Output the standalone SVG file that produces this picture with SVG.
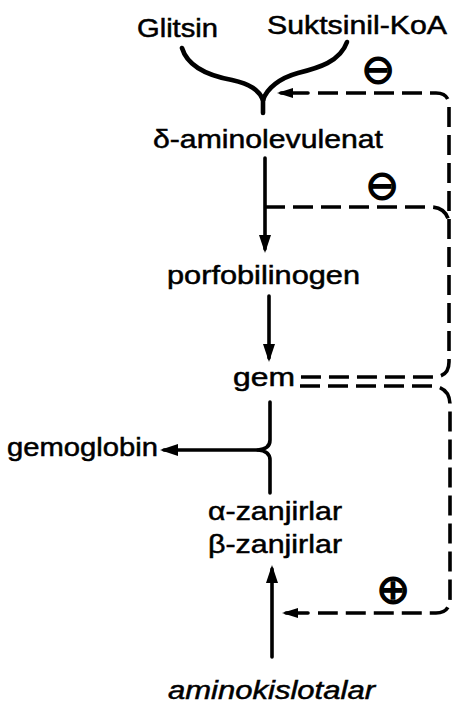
<svg xmlns="http://www.w3.org/2000/svg" width="459" height="704" viewBox="0 0 459 704">
<style>
.t{font-family:"Liberation Sans",Arial,sans-serif;font-size:26px;fill:#000;stroke:#000;stroke-width:0.5}
.it{font-style:italic}
.sym{font-family:"DejaVu Sans",sans-serif;font-size:40px;fill:#000;stroke:#000;stroke-width:1.4}
.s{fill:none;stroke:#000;stroke-width:3.6;stroke-linecap:round;stroke-linejoin:round}
.b{fill:none;stroke:#000;stroke-width:4.6;stroke-linecap:round}
.d{fill:none;stroke:#000;stroke-width:3.6;stroke-dasharray:20 8}
</style>
<defs>
<marker id="ah" viewBox="0 0 18 12" markerWidth="18" markerHeight="12" refX="14" refY="6" orient="auto" markerUnits="userSpaceOnUse">
<path d="M0,0 L18,6 L0,12 z" fill="#000"/>
</marker>
<marker id="ahs" viewBox="0 0 16 10" markerWidth="16" markerHeight="10" refX="12" refY="5" orient="auto" markerUnits="userSpaceOnUse">
<path d="M0,0 L16,5 L0,10 z" fill="#000"/>
</marker>
</defs>
<g id="glitsin"><text class="t" x="137" y="37" textLength="81" lengthAdjust="spacingAndGlyphs">Glitsin</text></g>
<g id="suktsinil"><text class="t" x="267" y="34" textLength="180" lengthAdjust="spacingAndGlyphs">Suktsinil-KoA</text></g>
<g id="ala"><text class="t" x="153" y="148" textLength="230" lengthAdjust="spacingAndGlyphs">δ-aminolevulenat</text></g>
<g id="porfobilinogen"><text class="t" x="167" y="284" textLength="193" lengthAdjust="spacingAndGlyphs">porfobilinogen</text></g>
<g id="gem"><text class="t" x="233" y="386" textLength="62" lengthAdjust="spacingAndGlyphs">gem</text></g>
<g id="gemoglobin"><text class="t" x="7" y="456" textLength="151" lengthAdjust="spacingAndGlyphs">gemoglobin</text></g>
<g id="zanjirlar">
<text class="t" x="208" y="520" textLength="134" lengthAdjust="spacingAndGlyphs">α-zanjirlar</text>
<text class="t" x="208" y="553" textLength="134" lengthAdjust="spacingAndGlyphs">β-zanjirlar</text>
</g>
<g id="aminokislotalar"><text class="t it" x="168" y="699" textLength="207" lengthAdjust="spacingAndGlyphs">aminokislotalar</text></g>
<g id="signs">
<text class="sym" x="378" y="83" text-anchor="middle">⊖</text>
<text class="sym" x="382" y="199" text-anchor="middle">⊖</text>
<text class="sym" x="393" y="603" text-anchor="middle">⊕</text>
</g>
<g id="connectors">
<path class="b" d="M182,48 C188,68 210,76 232,80 C250,84 259,90 263,100"/>
<path class="b" d="M347,42 C340,62 318,68 298,73 C280,78 267,88 263,100"/>
<path class="b" d="M263,98 V113"/>
<path class="s" d="M265,158 V249" marker-end="url(#ah)"/>
<path class="s" d="M269,296 V358" marker-end="url(#ah)"/>
<path class="s" d="M270,402 V440 Q270,449 258,450 Q270,451 270,460 V493"/>
<path class="s" d="M258,450 H164" marker-end="url(#ah)"/>
<path class="s" d="M272,657 V569" marker-end="url(#ah)"/>
<path class="s" d="M308,93 H281" marker-end="url(#ahs)"/>
<path class="s" d="M308,613 H286" marker-end="url(#ahs)"/>
<path class="d" d="M318,93 H436 Q449,93 449,106 V362 Q449,377 433,377 H300"/>
<path class="d" d="M265,207 H430 Q446,207 449,222"/>
<path class="d" d="M300,386 H433 Q450,388 450,405 V598 Q450,613 436,613 H318"/>
</g>
</svg>
